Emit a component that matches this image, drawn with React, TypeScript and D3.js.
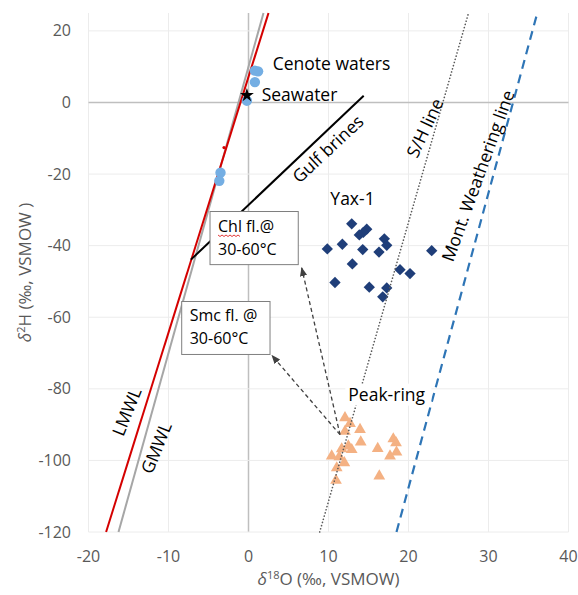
import React from "react";
import * as d3 from "d3";

const W = 578;
const H = 595;
const margin = { top: 13, right: 9.5, bottom: 63, left: 88.5 };

const xTicks = [-20, -10, 0, 10, 20, 30, 40];
const yTicks = [-120, -100, -80, -60, -40, -20, 0, 20];

// [d18O, d2H]
const cenoteWaters = [[1.2, 8.7], [0.8, 8.9], [0.8, 5.7], [-0.2, 0.5], [-3.5, -19.6], [-3.65, -21.9]];
const seawater = [[-0.2, 2]];
const redPoint = [[-3.06, -12.6]];
const yax1 = [
  [12.9, -33.9], [14.78, -35.4], [14.35, -36.3], [13.85, -37.0], [9.85, -40.9],
  [11.73, -39.6], [14.28, -41.1], [16.31, -41.8], [16.98, -38.1], [17.28, -39.9],
  [22.9, -41.4], [12.98, -45.1], [10.81, -50.3], [18.94, -46.7], [20.19, -47.8],
  [15.1, -51.6], [17.28, -51.8], [16.78, -54.3],
];
const peakRing = [
  [12.06, -88.1], [12.69, -89.7], [13.94, -91.4], [12.06, -91.9], [14.03, -94.9],
  [18.1, -94.0], [18.44, -95.1], [16.15, -96.7], [11.65, -96.8], [12.9, -97.0],
  [12.48, -96.0], [18.5, -97.7], [17.69, -98.8], [10.4, -98.8], [11.35, -99.0],
  [11.98, -100.7], [11.03, -102.1], [16.35, -104.4], [10.94, -105.6],
];

const lmwl = [[-17.8, -120], [2.5, 25]];
const gmwl = [[-16.25, -120], [1.875, 25]];
const gulfBrines = [[-7.2, -43.9], [14.4, 1.9]];
const shLine = [[8.9, -120], [27.5, 25]];
const montLine = [[18.5, -120], [36.1, 25]];

const labels = [
  { text: "Cenote waters", x: 3.03, y: 9.1, angle: 0, anchor: "start" },
  { text: "Seawater", x: 1.65, y: 0.5, angle: 0, anchor: "start" },
  { text: "Yax-1", x: 13.0, y: -28.6, angle: 0, anchor: "middle" },
  { text: "Gulf brines", x: 9.94, y: -13.0, angle: -43, anchor: "middle" },
  { text: "S/H line", x: 22.06, y: -7.1, angle: -65, anchor: "middle" },
  { text: "Mont. Weathering line", x: 28.7, y: -20.5, angle: -70, anchor: "middle" },
  { text: "GMWL", x: -11.5, y: -96.5, angle: -68, anchor: "middle" },
  { text: "LMWL", x: -15.2, y: -86.4, angle: -68, anchor: "middle" },
];
const peakLabel = { text: "Peak-ring", x: 12.48, y: -83.3 };

const boxes = [
  { lines: ["Chl fl.@", "30-60°C"], x0: -4.81, x1: 6.22, y0: -30.46, y1: -45.3 },
  { lines: ["Smc fl. @", "30-60°C"], x0: -8.35, x1: 2.69, y0: -55.6, y1: -70.4 },
];
const arrowFrom = [11.44, -92.8];
const arrowTo = [[6.65, -46.2], [2.94, -70.7]];

const FONT = "'Open Sans', sans-serif";

export default function App() {
  const x = d3.scaleLinear().domain([-20, 40]).range([margin.left, W - margin.right]);
  const y = d3.scaleLinear().domain([-120, 25]).range([H - margin.bottom, margin.top]);
  const line = d3.line<number[]>().x(d => x(d[0])).y(d => y(d[1]));

  const diamond = d3.symbol(d3.symbolSquare, 64)();
  const tri = d3.symbol(d3.symbolTriangle, 60)();
  const star = d3.symbol(d3.symbolStar, 60)();

  const top = margin.top;
  const bottom = H - margin.bottom;

  return (
    <svg width={W} height={H} style={{ position: "absolute", left: 0, top: 0, background: "#fff" }} fontFamily={FONT}>
      <defs>
        <marker id="ah" viewBox="0 0 10 10" refX="9" refY="5" markerWidth="7" markerHeight="7" orient="auto">
          <path d="M0,1 L10,5 L0,9 z" fill="#404040" />
        </marker>
      </defs>

      {/* grid */}
      {xTicks.map(t => (
        <line key={"gx" + t} x1={x(t)} x2={x(t)} y1={top} y2={bottom}
          stroke={t === 0 ? "#bfbfbf" : "#ececec"} strokeWidth={t === 0 ? 1.5 : 1} />
      ))}
      {yTicks.map(t => (
        <line key={"gy" + t} x1={x(-20)} x2={x(40)} y1={y(t)} y2={y(t)}
          stroke={t === 0 ? "#bfbfbf" : "#ececec"} strokeWidth={t === 0 ? 1.5 : 1} />
      ))}

      {/* tick labels */}
      {yTicks.map(t => (
        <text key={"ty" + t} x={71} y={y(t)} dy="0.35em" textAnchor="end" fontSize={16} fill="#595959">{t}</text>
      ))}
      {xTicks.map(t => (
        <text key={"tx" + t} x={x(t)} y={562} textAnchor="middle" fontSize={16} fill="#595959">{t}</text>
      ))}

      {/* axis titles */}
      <text x={(x(-20) + x(40)) / 2} y={585} textAnchor="middle" fontSize={17} fill="#595959">
        <tspan fontStyle="italic">δ</tspan>
        <tspan dy={-6} fontSize={11}>18</tspan>
        <tspan dy={6}>O (‰, VSMOW)</tspan>
      </text>
      <text transform={`translate(31, ${(top + bottom) / 2}) rotate(-90)`} textAnchor="middle" fontSize={17} fill="#595959">
        <tspan fontStyle="italic">δ</tspan>
        <tspan dy={-6} fontSize={11}>2</tspan>
        <tspan dy={6}>H (‰, VSMOW )</tspan>
      </text>

      {/* reference lines */}
      <path d={line(gmwl) || ""} stroke="#a6a6a6" strokeWidth={2} fill="none" />
      <path d={line(lmwl) || ""} stroke="#d40000" strokeWidth={2} fill="none" />
      <path d={line(gulfBrines) || ""} stroke="#000" strokeWidth={2} fill="none" />
      <path d={line(montLine) || ""} stroke="#2e75b6" strokeWidth={2.2} strokeDasharray="9 6" fill="none" />

      {/* points */}
      {cenoteWaters.map((d, i) => (
        <circle key={"c" + i} cx={x(d[0])} cy={y(d[1])} r={5.2} fill="#74aee3" />
      ))}
      {redPoint.map((d, i) => (
        <circle key={"r" + i} cx={x(d[0])} cy={y(d[1])} r={1.6} fill="#d40000" />
      ))}
      {yax1.map((d, i) => (
        <path key={"y" + i} d={diamond || ""} transform={`translate(${x(d[0])},${y(d[1])}) rotate(45)`} fill="#1f3e79" />
      ))}
      {peakRing.map((d, i) => (
        <path key={"p" + i} d={tri || ""} transform={`translate(${x(d[0])},${y(d[1])})`} fill="#f4b183" />
      ))}
      {seawater.map((d, i) => (
        <path key={"s" + i} d={star || ""} transform={`translate(${x(d[0])},${y(d[1])})`} fill="#000" />
      ))}

      <path d={line(shLine) || ""} stroke="#595959" strokeWidth={1.6} strokeDasharray="0.1 3.2" strokeLinecap="round" fill="none" />

      {/* annotation boxes */}
      {boxes.map((b, i) => (
        <g key={"b" + i}>
          <rect x={x(b.x0)} y={y(b.y0)} width={x(b.x1) - x(b.x0)} height={y(b.y1) - y(b.y0)}
            fill="#fff" stroke="#7f7f7f" strokeWidth={1} />
          {b.lines.map((s, j) => (
            <text key={j} x={x(b.x0) + 8} y={y(b.y0) + 20 + j * 23} fontSize={16} fill="#000">{s}</text>
          ))}
          {i === 0 && (
            <path d={d3.range(0, 24, 2).map((k, n) => `${n === 0 ? "M" : "L"}${x(b.x0) + 8 + k},${y(b.y0) + 23.5 + (n % 2 ? 1.5 : 0)}`).join("")}
              stroke="#e02020" strokeWidth={0.9} fill="none" />
          )}
        </g>
      ))}

      {/* arrows */}
      {arrowTo.map((d, i) => (
        <line key={"a" + i} x1={x(arrowFrom[0])} y1={y(arrowFrom[1])} x2={x(d[0])} y2={y(d[1])}
          stroke="#404040" strokeWidth={1.3} strokeDasharray="4 3" markerEnd="url(#ah)" />
      ))}

      {/* labels */}
      {labels.map((l, i) => (
        <text key={"l" + i} transform={`translate(${x(l.x)},${y(l.y)}) rotate(${l.angle})`}
          textAnchor={l.anchor} dy={l.angle ? "0.35em" : 0} fontSize={17.5} fill="#000">{l.text}</text>
      ))}
      <rect x={x(peakLabel.x) - 3} y={y(peakLabel.y) - 17} width={86} height={22} fill="#fff" />
      <text x={x(peakLabel.x)} y={y(peakLabel.y)} fontSize={17.5} fill="#000">{peakLabel.text}</text>
    </svg>
  );
}
